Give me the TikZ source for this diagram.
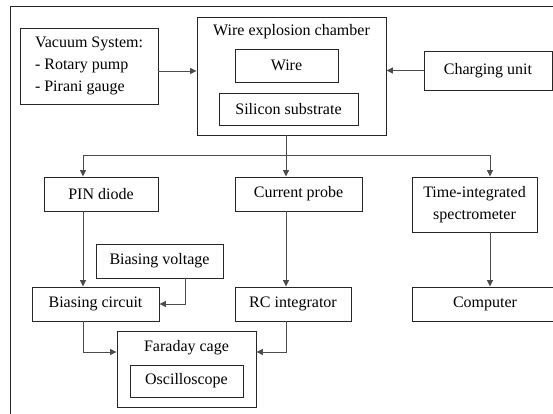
\documentclass[tikz,border=0pt]{standalone}
\usepackage{fontspec}
\setmainfont{Liberation Serif}
\usetikzlibrary{arrows.meta,calc}
\begin{document}
\begin{tikzpicture}[x=1pt,y=-1pt,
  box/.style={draw=black!85, line width=0.9pt, rectangle, inner sep=0pt, align=center,
    font=\fontsize{16}{22}\selectfont},
  lbl/.style={inner sep=0pt, align=center, font=\fontsize{16}{22}\selectfont},
  conn/.style={draw=black!70, line width=0.9pt},
  arr/.style={conn, -{Triangle[length=6.5pt,width=6pt]}}]
\useasboundingbox (0,0) rectangle (553,414);
\clip (0,0) rectangle (553,414);
% outer frame (only top and left edges are visible)
\draw[black!85, line width=1pt] (10,420) -- (10,7) -- (560,7);
% nodes
\node[box, minimum width=138, minimum height=76, align=left] (vac) at (89,66)
  {Vacuum System:\\- Rotary pump\\- Pirani gauge};
\node[box, minimum width=189, minimum height=118] (chamber) at (291.5,76) {};
\node[lbl] (chambert) at (291.5,32) {Wire explosion chamber};
\node[box, minimum width=103, minimum height=33] (wire) at (286.5,65.5) {Wire};
\node[box, minimum width=139, minimum height=32] (sub) at (288.5,109) {Silicon substrate};
\node[box, minimum width=128, minimum height=39] (charge) at (488,70.5) {Charging unit};
\node[box, minimum width=114, minimum height=34] (pin) at (101,194) {PIN diode};
\node[box, minimum width=127, minimum height=34] (cur) at (298.5,194) {Current probe};
\node[box, minimum width=125, minimum height=55] (spec) at (474.5,204.5) {Time-integrated\\spectrometer};
\node[box, minimum width=127, minimum height=34] (bv) at (159.5,261) {Biasing voltage};
\node[box, minimum width=127, minimum height=34] (bc) at (95.5,304) {Biasing circuit};
\node[box, minimum width=116, minimum height=34] (rc) at (293,304) {RC integrator};
\node[box, minimum width=146, minimum height=34] (comp) at (485,304) {Computer};
\node[box, minimum width=139, minimum height=76] (far) at (186.5,369) {};
\node[lbl] (fart) at (186.5,348) {Faraday cage};
\node[box, minimum width=113, minimum height=32] (osc) at (186.5,381) {Oscilloscope};
% routing coordinates
\coordinate (bA) at (83,155);
\coordinate (bB) at (286,155);
\coordinate (bC) at (490,155);
\coordinate (vy) at (0,71);
\coordinate (bvx) at (185,0);
\coordinate (fy) at (0,352);
% connectors
\draw[arr] (vac.east |- vy) -- (chamber.west |- vy);
\draw[arr] (charge.west) -- (chamber.east |- charge.west);
\draw[conn] (chamber.south -| bB) -- (bB);
\draw[arr] (bB) -| (bA |- pin.north);
\draw[arr] (bB) -- (bB |- cur.north);
\draw[arr] (bB) -| (bC |- spec.north);
\draw[arr] (bA |- pin.south) -- (bA |- bc.north);
\draw[arr] (bv.south -| bvx) |- (bc.east);
\draw[arr] (bA |- bc.south) |- (far.west |- fy);
\draw[arr] (bB |- cur.south) -- (bB |- rc.north);
\draw[arr] (bB |- rc.south) |- (far.east |- fy);
\draw[arr] (bC |- spec.south) -- (bC |- comp.north);
\end{tikzpicture}
\end{document}
